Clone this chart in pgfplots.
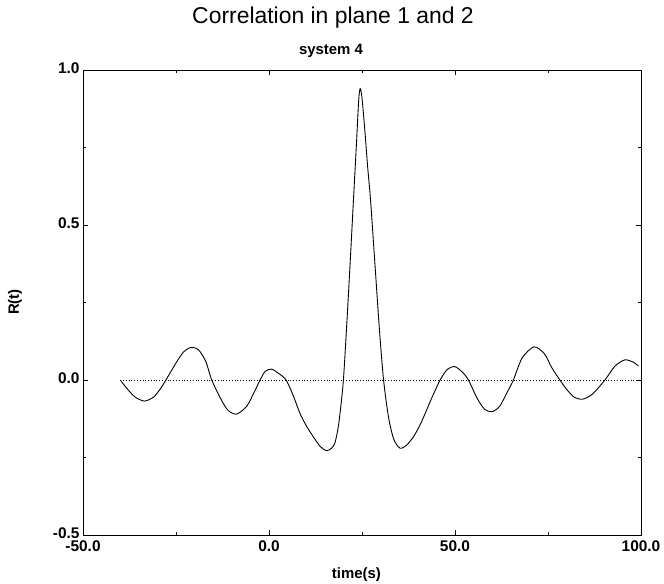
\documentclass[border=0pt]{standalone}
\usepackage{fontspec}
\setmainfont{Liberation Sans}
\usepackage{pgfplots}
\pgfplotsset{compat=1.18}
\begin{document}
\begin{tikzpicture}
\path[use as bounding box] (0,0) rectangle (664bp,584bp);
\begin{axis}[
  at={(83bp,49bp)}, anchor=south west,
  scale only axis, width=558bp, height=465bp,
  xmin=-50, xmax=100, ymin=-0.5, ymax=1.0,
  xtick={-50,0,50,100}, ytick={-0.5,0,0.5,1.0},
  minor tick num=1,
  tick align=inside, major tick length=5bp, minor tick length=3bp,
  /pgf/number format/fixed, /pgf/number format/fixed zerofill,
  /pgf/number format/precision=1, /pgf/number format/assume math mode=true,
  ticklabel style={font=\fontsize{15.5}{17}\selectfont\bfseries},
  xticklabel style={yshift=-2bp},
  yticklabel style={yshift=2bp},
  axis line style={line width=0.8pt},
  tick style={line width=0.7pt, black},
  xlabel={time(s)}, ylabel={R(t)},
  label style={font=\fontsize{15}{17}\selectfont\bfseries},
  xlabel style={at={(axis description cs:0.49,-0.085)}, anchor=center},
  ylabel style={at={(axis description cs:-0.122,0.501)}, anchor=center},
  clip=false,
]
\addplot[black, dotted, line width=0.8pt] coordinates {(-40,0) (100,0)};
\addplot[black, line width=0.9pt, smooth, tension=0.45] coordinates {
(-40,0.0) (-38,-0.03) (-36,-0.055) (-33.5,-0.068) (-31,-0.055) (-29,-0.025)
(-27.7,0.0) (-25,0.055) (-23,0.09) (-21,0.105) (-19,0.098) (-17,0.06)
(-15.4,0.0) (-13,-0.06) (-11,-0.098) (-8.7,-0.11) (-6,-0.085) (-4,-0.04)
(-2.4,0.0) (-1,0.028) (0.7,0.035) (2.5,0.022) (4.6,0.0) (6.5,-0.05) (8.3,-0.107)
(10,-0.147) (11.9,-0.183) (13.8,-0.215) (15.5,-0.228) (16.8,-0.22) (17.7,-0.204)
(18.5,-0.16) (19.1,-0.107) (20,0.0) (21,0.2) (22,0.42) (22.7,0.58) (23.5,0.76)
(24.1,0.9) (24.5,0.94) (25,0.91) (25.8,0.8) (26.5,0.69) (27.3,0.58) (28.5,0.37)
(29.7,0.16) (30.8,0.0) (32.1,-0.118) (33.5,-0.19) (35.2,-0.22) (37,-0.21)
(39,-0.18) (41,-0.135) (43.5,-0.065) (46,0.0) (48,0.035) (50,0.043) (52,0.025) (53.6,0.0) (56,-0.06)
(58,-0.095) (60,-0.102) (62,-0.085) (64,-0.04) (65.7,0.0) (68,0.07) (71.2,0.107)
(74,0.085) (76,0.04) (78.2,0.0) (80,-0.03) (82,-0.055) (84.3,-0.062) (87,-0.045)
(90.3,0.0) (93,0.045) (95.7,0.065) (98,0.057) (99.3,0.045)
};
\end{axis}
\node[font=\fontsize{23}{25}\selectfont, anchor=base] at (333bp,560bp) {Correlation in plane 1 and 2};
\node[font=\fontsize{15}{17}\selectfont\bfseries, anchor=base] at (331bp,529bp) {system 4};
\end{tikzpicture}
\end{document}
